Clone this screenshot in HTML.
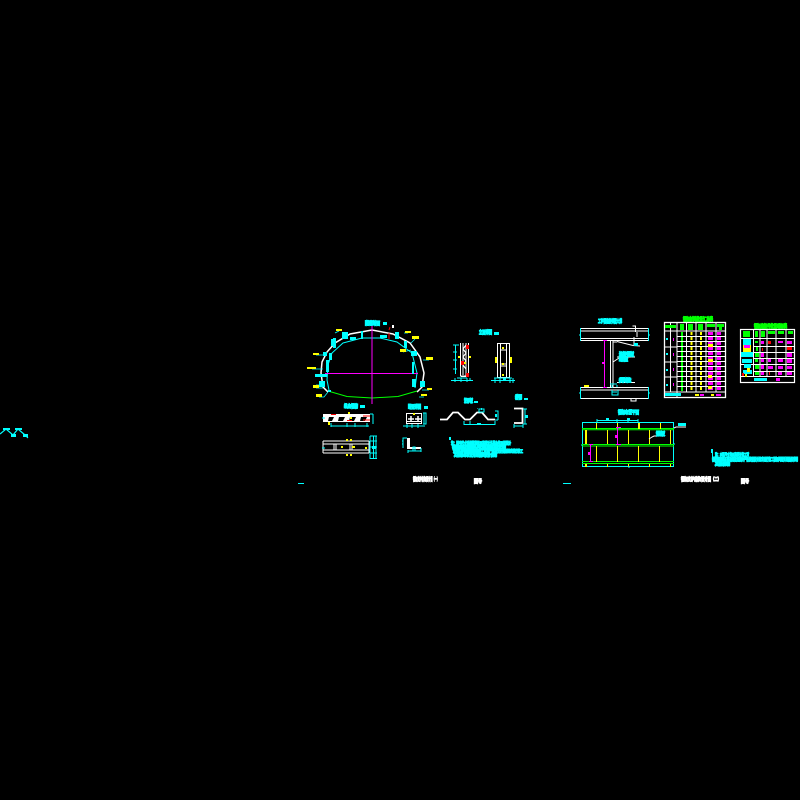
<!DOCTYPE html>
<html><head><meta charset="utf-8"><style>
html,body{margin:0;padding:0;background:#000;width:800px;height:800px;overflow:hidden}
svg{display:block}
text{font-family:"Liberation Sans","Noto Sans CJK SC",sans-serif;font-size:5px;font-weight:700;stroke-width:1.1}
.c{fill:#0ff;stroke:#0ff}.w{fill:#fff;stroke:#fff}.g{fill:#0f0;stroke:#0f0}.y{fill:#ff0;stroke:#ff0}
</style></head><body>
<svg width="800" height="800" viewBox="0 0 800 800" xmlns="http://www.w3.org/2000/svg">
<rect width="800" height="800" fill="#000"/>

<!-- far-left fragment -->
<path d="M0 434l6-5 7 6 5-6 7 6 3 3" fill="none" stroke="#0ff" stroke-width="1.200"/>
<path d="M3 428h7v2h-7zM15 428h7v2h-7zM11 434h5v3h-5zM23 434h5v3h-5z" fill="#0ff"/>

<!-- tunnel section -->
<path d="M328 392L323 387L321 373L322 362L327 352L335 343L350 334L372 330L393 334L410 343L420 357L424 373L422 387L417 392" fill="none" stroke="#fff" stroke-width="1.500"/>
<path d="M329 390L327 380L328 365L332 353L343 343L362 338L380 338L397 342L412 353L417 373L415 388" fill="none" stroke="#0ff" stroke-width="1"/>
<path d="M328 391L347 396.500L372 398L398 396.500L417 391" fill="none" stroke="#0f0" stroke-width="1"/>
<path d="M372 326V404M325 373.500H418" stroke="#f0f" stroke-width="1" fill="none"/>
<g fill="#0ff">
<rect x="315" y="374" width="12" height="3"/><rect x="319" y="381" width="6" height="6"/><rect x="328" y="390" width="3" height="2"/>
<rect x="331" y="339" width="4" height="7"/><rect x="342" y="332" width="6" height="7"/><rect x="350" y="337" width="6" height="3"/>
<rect x="361" y="331" width="2" height="8"/><rect x="380" y="335" width="7" height="3"/><rect x="395" y="332" width="4" height="7"/>
<rect x="411" y="351" width="6" height="5"/><rect x="412" y="379" width="4" height="8"/><rect x="420" y="381" width="5" height="6"/>
<rect x="323" y="352" width="4" height="4"/><rect x="329" y="353" width="3" height="7"/><rect x="333" y="338" width="3" height="10"/>
<rect x="412" y="362" width="2" height="12"/><rect x="326" y="360" width="3" height="12"/><rect x="404" y="341" width="3" height="7"/>
</g>
<path d="M316 385h9M312 369h11M316 355h8M339 331l-4 2M408 333h-4M415 339l-4 4M403 352l8-2M429 360h-6M429 390h-7M316 388h7M319 397h5l4-5M424 397h-5" stroke="#0ff" stroke-width=".8" fill="none"/>
<g fill="#ff0">
<rect x="336" y="329" width="6" height="2"/><rect x="405" y="331" width="6" height="2"/><rect x="412" y="336" width="7" height="3"/>
<rect x="400" y="349" width="6" height="3"/><rect x="313" y="353" width="6" height="2"/><rect x="426" y="357" width="7" height="3"/>
<rect x="307" y="367" width="9" height="2"/><rect x="313" y="385" width="6" height="3"/><rect x="427" y="388" width="5" height="2"/>
<rect x="316" y="394" width="6" height="3"/><rect x="421" y="394" width="6" height="2"/>
</g>
<path d="M390 327l-1 3M389 333v6" stroke="#f00" stroke-width="1" fill="none"/>
<path d="M392 325h2v3h-2z" fill="#fff"/>
<text x="365" y="325" class="c" textLength="15" lengthAdjust="spacingAndGlyphs">隧道断面</text>
<rect x="383" y="322" width="4" height="3" fill="#0ff"/>

<!-- beam sections -->
<text x="344" y="408" class="c" textLength="14" lengthAdjust="spacingAndGlyphs">纵向钢筋</text>
<rect x="360" y="405" width="5" height="3" fill="#0ff"/>
<text x="408" y="408.500" class="c" textLength="13" lengthAdjust="spacingAndGlyphs">断面详图</text>
<rect x="424" y="406" width="4" height="3" fill="#0ff"/>
<rect x="323" y="414" width="47" height="8" fill="#fff"/>
<path d="M329 417h5l-2 4h-4zM339 417h6l-2 4h-5zM350 417h6l-2 4h-5zM361 417h6l-2 4h-5z" fill="#000"/>
<path d="M331 414.500h5M347 420.500h5M363 416h7M363 420h7" stroke="#f00" stroke-width="1"/>
<path d="M348 412h2v2h-2zM328 422h2v3h-2zM350 417h2v2h-2z" fill="#ff0"/>
<path d="M331 426h38M331 423v4M347 423v4M355 423v4M367 423v4M373 414v10M370 414h3M322 418h3" stroke="#0ff" stroke-width="1" fill="none"/>
<path d="M323 441h46M323 444h46M323 450h46M323 453h46M323 441v12M369 441v12M334 444v6M336 444v6M350 444v6M352 444v6" stroke="#fff" stroke-width="1" fill="none"/>
<path d="M346 439h2v2h-2zM350 439h2v2h-2zM341 446h2v2h-2zM352 446h3v2h-3zM365 447h2v2h-2zM346 454h2v2h-2zM350 454h2v2h-2z" fill="#ff0"/>
<path d="M370 436h7M370 441h7M370 447h7M370 453h7M370 458.500h7M370 436v23M373.500 436v23M376 436v23M322 448h3" stroke="#0ff" stroke-width="1" fill="none"/>
<rect x="372" y="446" width="4" height="3" fill="#0ff"/>
<rect x="406.500" y="413.500" width="15" height="10" fill="none" stroke="#fff"/>
<path d="M408 419h6M411 416v6M415 419h6M418 416v6" stroke="#fff" stroke-width="1.500"/>
<path d="M407 421.500h14" stroke="#fff"/>
<path d="M413 413h2v2h-2z" fill="#ff0"/>
<path d="M403 426h22M407 424v4M412 424v4M418 424v4M423 413h3v11h-3M424 413v11" stroke="#0ff" fill="none"/>
<path d="M407 438h3v9h11v2h-14z" fill="#fff"/>
<path d="M407 438h-4v10M403 441h-1M403 444h-1M408 450v3M408 451h13M421 448v4M413 447h2v4h-2z" stroke="#0ff" fill="none"/>

<!-- columns -->
<text x="479" y="334" class="c" textLength="13" lengthAdjust="spacingAndGlyphs">立面详图</text>
<rect x="494" y="332" width="5" height="3" fill="#0ff"/>
<path d="M455.500 345v29M453 345h6M453 352h4M453 360h4M453 369h4" stroke="#0ff" fill="none"/>
<path d="M460.500 343v33h8v-33M463 343v32M466 343v33M461 376.500h8" fill="none" stroke="#fff"/>
<path d="M466 345l-3 4 3 4-3 4 3 4-3 4 3 4" fill="none" stroke="#fff" stroke-width="1.200"/>
<path d="M466 345h3v4h-3zM461 361h3v4h-3zM466 373h3v4h-3z" fill="#f00"/>
<path d="M458 356h2v2h-2zM469 356h2v2h-2zM464 362h2v2h-2z" fill="#ff0"/>
<path d="M451 380.500h22M455 378v4M461 378v4M467 378v4M470 378v3M457 378h10" stroke="#0ff" fill="none"/>
<path d="M497.500 343.500h12v34h-12zM500.500 344v33M506.500 344v33M500 350h7M500 364h7M500 366h7" fill="none" stroke="#fff"/>
<path d="M495 357h2v6h-2zM510 357h2v6h-2zM502 347h2v2h-2zM502 363h2v2h-2zM502 374h2v2h-2z" fill="#ff0"/>
<path d="M491 380.500h24M495 378v5M500 378v5M510 378v5M513 378v5M494 378h18" stroke="#0ff" fill="none"/>
<rect x="503" y="378" width="3" height="2" fill="#0ff"/>

<!-- corrugated -->
<text x="464" y="402.500" class="c" textLength="9" lengthAdjust="spacingAndGlyphs">波形板</text>
<rect x="474" y="401" width="4" height="2" fill="#0ff"/>
<path d="M440 419.500h7l6-7h5l7 7h5l7-7h5l6 7h7" fill="none" stroke="#fff" stroke-width="1.800"/>
<path d="M464 421v3.500h31v-3.500M470 421v3M479 409h5v3h-5zM496 411h2v9M495 411h3M495 420h3" fill="none" stroke="#0ff"/>
<path d="M477 423h4v2h-4zM495 414h2v3h-2zM477 409h1v-1zM481 408h1v2h-1z" fill="#0ff"/>
<text x="515" y="399" class="c" textLength="7" lengthAdjust="spacingAndGlyphs">槽钢</text>
<rect x="524" y="398" width="4" height="2" fill="#0ff"/>
<path d="M514 408.500h8.500v14.500h-8.500" fill="none" stroke="#fff" stroke-width="1.800"/>
<path d="M525 409v15M523 409h4M523 424h4M514 426h9M514 424v4M523 424v4" fill="none" stroke="#0ff"/>
<rect x="525" y="415" width="3" height="3" fill="#0ff"/>

<!-- notes -->
<rect x="449" y="437" width="2" height="3" fill="#0ff"/>
<text x="451" y="444.500" class="c" textLength="60" lengthAdjust="spacingAndGlyphs" style="font-size:4px">注：图中尺寸除钢筋直径以毫米计外其余均以厘米计</text>
<text x="452" y="448.500" class="c" textLength="54" lengthAdjust="spacingAndGlyphs" style="font-size:4px">钢筋连接采用焊接接头并应满足相关规范要求说明</text>
<text x="453" y="452.500" class="c" textLength="70" lengthAdjust="spacingAndGlyphs" style="font-size:4px">波形板与钢架连接牢固施工时应严格按设计图纸要求进行施工</text>
<text x="454" y="456.500" class="c" textLength="43" lengthAdjust="spacingAndGlyphs" style="font-size:4px">其他未尽事宜详见相关设计说明</text>

<!-- title block 1 -->
<text x="413" y="481" class="w" textLength="26" lengthAdjust="spacingAndGlyphs">钢架支护结构设计图（一）</text>
<text x="474" y="483" class="w" textLength="8" lengthAdjust="spacingAndGlyphs">图号</text>
<path d="M298 483.500h6M563 483.500h8" stroke="#0ff"/>

<!-- I-beam detail -->
<text x="598" y="323" class="c" textLength="24" lengthAdjust="spacingAndGlyphs">工字钢连接详图大样</text>
<path d="M581 328.500h67M581 331h67M581 338.500h67M581 340.500h67M581 387.500h67M581 390h67M581 398.500h67" stroke="#fff" fill="none"/>
<path d="M580.500 328v13M648.500 328v13M580.500 387v12M648.500 387v12M579 335h2M648 335h2M579 393h2M648 393h2" stroke="#0ff" fill="none"/>
<path d="M604.500 340v47M603 340.500h4M603 387.500h4" stroke="#f0f" fill="none"/>
<rect x="602" y="362" width="3" height="2" fill="#f0f"/>
<path d="M610.500 341v46M613 341v46" stroke="#fff" fill="none"/>
<path d="M613 342h4M617 341.500l16 4 7 .5M637 332v5M632.500 326h3v6M634 337l0 8M613 362l6-4 2-1M617 357h18M617 382.500h18" stroke="#fff" fill="none"/>
<rect x="634" y="343" width="4" height="3" fill="#0ff"/>
<text x="619" y="356" class="c" textLength="15" lengthAdjust="spacingAndGlyphs">连接钢板</text>
<text x="619" y="361" class="c" textLength="9" lengthAdjust="spacingAndGlyphs">螺栓</text>
<text x="619" y="382" class="c" textLength="12" lengthAdjust="spacingAndGlyphs">焊缝</text>
<rect x="584" y="385" width="5" height="2" fill="#ff0"/>
<path d="M610 384h7M612 385v3M617 385v2M612 392h5M612 390v5h6v-5" stroke="#0ff" fill="none"/>
<path d="M631 398.500v2.500h5v-2.500" stroke="#fff" fill="none"/>

<!-- table 1 -->
<text x="683" y="321" class="g" textLength="30" lengthAdjust="spacingAndGlyphs">钢架材料数量汇总表</text>
<rect x="664.500" y="322.500" width="61" height="75" fill="none" stroke="#fff" stroke-width="1.300"/>
<path d="M664 331h62M664 347h13M664 362h13M664 377h13M664 392h62M670.500 323v69M677 323v75M686.500 323v69M696 323v69M706 323v69M716 323v69" stroke="#fff" fill="none"/>
<path d="M677 336.500h49M677 341.500h49M677 346.500h49M677 351.500h49M677 356.500h49M677 361.500h49M677 366.500h49M677 371.500h49M677 376.500h49M677 381.500h49M677 386.500h49" stroke="#fff" fill="none"/>
<path d="M682 332v59" stroke="#0f0" stroke-width="2" stroke-dasharray="4 1"/>
<path d="M691.500 332v59" stroke="#ff0" stroke-width="2" stroke-dasharray="3 2"/>
<path d="M701 332v59" stroke="#ff0" stroke-width="2" stroke-dasharray="3 2"/>
<path d="M710.500 332v59" stroke="#f0f" stroke-width="5" stroke-dasharray="3 2"/>
<path d="M719 332v59" stroke="#f0f" stroke-width="4" stroke-dasharray="3 2"/>
<path d="M708 344h5v3h-5zM708 359h5v3h-5zM708 375h4v3h-4zM708 386h4v3h-4z" fill="#ff0"/>
<path d="M665 325h11v3h-11z" fill="#0f0"/>
<path d="M680 324h4v6h-4zM688 324h5v6h-5zM698 324h5v6h-5zM707 324h8v3h-8zM717 324h7v3h-7zM719 327h3v3h-3z" fill="#0f0"/>
<path d="M666 338h2v2h-2zM666 353h2v2h-2zM666 369h2v2h-2zM666 384h2v2h-2z" fill="#0ff"/>
<path d="M673 338h1v3h-1zM673 353h1v3h-1zM673 368h1v3h-1zM673 383h1v3h-1z" fill="#f0f"/>
<rect x="665" y="393" width="16" height="3" fill="#0ff"/>
<path d="M695 394h4v2h-4zM711 394h3v2h-3z" fill="#ff0"/>
<path d="M700 394h4v2h-4zM716 394h5v2h-5z" fill="#f0f"/>

<!-- table 2 -->
<text x="754" y="328" class="g" textLength="33" lengthAdjust="spacingAndGlyphs">钢架连接件数量明细表</text>
<rect x="740.500" y="329.500" width="54" height="53" fill="none" stroke="#fff" stroke-width="1.200"/>
<path d="M740 338.500h55M753 346.500h42M753 352.500h42M753 358.500h42M740 364.500h55M753 371.500h42M740 376.500h55M753.500 330v47M760 330v47M767 330v47M776 330v47M786 330v47" stroke="#fff" fill="none"/>
<path d="M743 331h7v6h-7zM755 331h3v6h-3zM761 331h4v6h-4zM768 331h7v3h-7zM778 331h6v3h-6zM788 331h5v3h-5z" fill="#0f0"/>
<path d="M743 339h8v6h-8zM741 352h12v5h-12zM742 359h10v4h-10zM744 364h7v4h-7zM743 370h9v4h-9z" fill="#0ff"/>
<path d="M743 345h8v7h-8z" fill="#ff0"/><path d="M744 345h6v3h-6z" fill="#f0f"/>
<path d="M747 368h3v4h-3zM745 374h2v3h-2z" fill="#ff0"/><path d="M742 373h2v3h-2z" fill="#f00"/>
<path d="M755 341h3v2h-3zM756 347h2v4h-2zM755 353h4v4h-4zM755 359h3v3h-3zM755 365h4v4h-4zM755 372h4v3h-4z" fill="#0f0"/>
<path d="M761 341h3v3h-3zM761 353h3v4h-3zM761 359h3v3h-3zM761 365h3v4h-3zM761 372h3v3h-3zM768 359h3v3h-3zM768 366h5v3h-5zM778 341h5v2h-5zM778 359h5v3h-5zM778 366h5v3h-5zM778 372h4v3h-4zM787 341h5v3h-5zM787 353h5v4h-5zM787 359h5v4h-5zM787 366h5v3h-5zM787 372h5v3h-5zM776 378h4v3h-4z" fill="#f0f"/>
<path d="M768 341h3v3h-3zM762 348h1v3h-1zM787 347h5v3h-5zM769 372h1v3h-1z" fill="#f00"/>
<rect x="754" y="378" width="13" height="3" fill="#0ff"/>

<!-- plan -->
<text x="618" y="414" class="c" textLength="21" lengthAdjust="spacingAndGlyphs">钢架布置平面</text>
<path d="M597 420.500h41M597 419v3M617 419v3M628 419v3M638 419v3" stroke="#0ff" fill="none"/>
<path d="M606 418h3v3h-3zM627 418h3v3h-3z" fill="#0ff"/>
<rect x="582.500" y="422.500" width="91" height="44" fill="none" stroke="#0ff"/>
<path d="M582 428.500h92M582 429.800h92M582 444.500h92M582 446h92M582 461.500h92M582 463.500h92" stroke="#0f0" fill="none"/>
<path d="M596.500 423v6M617.500 423v6M639 423v6M660.500 423v6M607.500 430v14M628.500 430v14M649.500 430v14M670.500 430v14M596.500 446v16M617.500 446v16M638.500 446v16M659.500 446v16M607.500 464v3M628.500 464v3M649.500 464v3M670.500 464v3" stroke="#ff0" fill="none"/>
<path d="M585 430h2v14h-2zM585 464h2v3h-2zM638 423h2v6h-2z" fill="#ff0"/>
<path d="M617.500 427v17M616 427.500h5M616 444.500h5M590.500 444v17M589 444.500h4M589 461.500h4" stroke="#f0f" fill="none"/>
<path d="M615 435h2v3h-2zM588 452h2v3h-2z" fill="#f0f"/>
<path d="M649 439l3-2 2-1h11M674 428l2-1h10" stroke="#fff" fill="none"/>
<text x="656" y="435.500" class="c" textLength="9" lengthAdjust="spacingAndGlyphs">钢板</text>
<rect x="678" y="423" width="8" height="3" fill="#0ff"/>
<path d="M581 445h1M674 444h1M629 466v2" stroke="#0ff" fill="none"/>

<!-- notes 2 -->
<rect x="711" y="449" width="2" height="4" fill="#0ff"/>
<path d="M712.500 453v5" stroke="#0ff"/>
<text x="715" y="456" class="c" textLength="34" lengthAdjust="spacingAndGlyphs" style="font-size:4px">注：本图尺寸均以毫米计施工时</text>
<text x="712" y="461" class="c" textLength="86" lengthAdjust="spacingAndGlyphs" style="font-size:4.500px">钢板连接采用高强螺栓连接并严格按照设计要求进行施工钢架间距详见图纸说明</text>
<text x="715" y="465.500" class="c" textLength="15" lengthAdjust="spacingAndGlyphs" style="font-size:4px">其他说明</text>

<!-- title block 2 -->
<text x="681" y="481" class="w" textLength="40" lengthAdjust="spacingAndGlyphs">钢架支护结构设计图（二）</text>
<text x="741" y="483" class="w" textLength="8" lengthAdjust="spacingAndGlyphs">图号</text>
</svg>
</body></html>
